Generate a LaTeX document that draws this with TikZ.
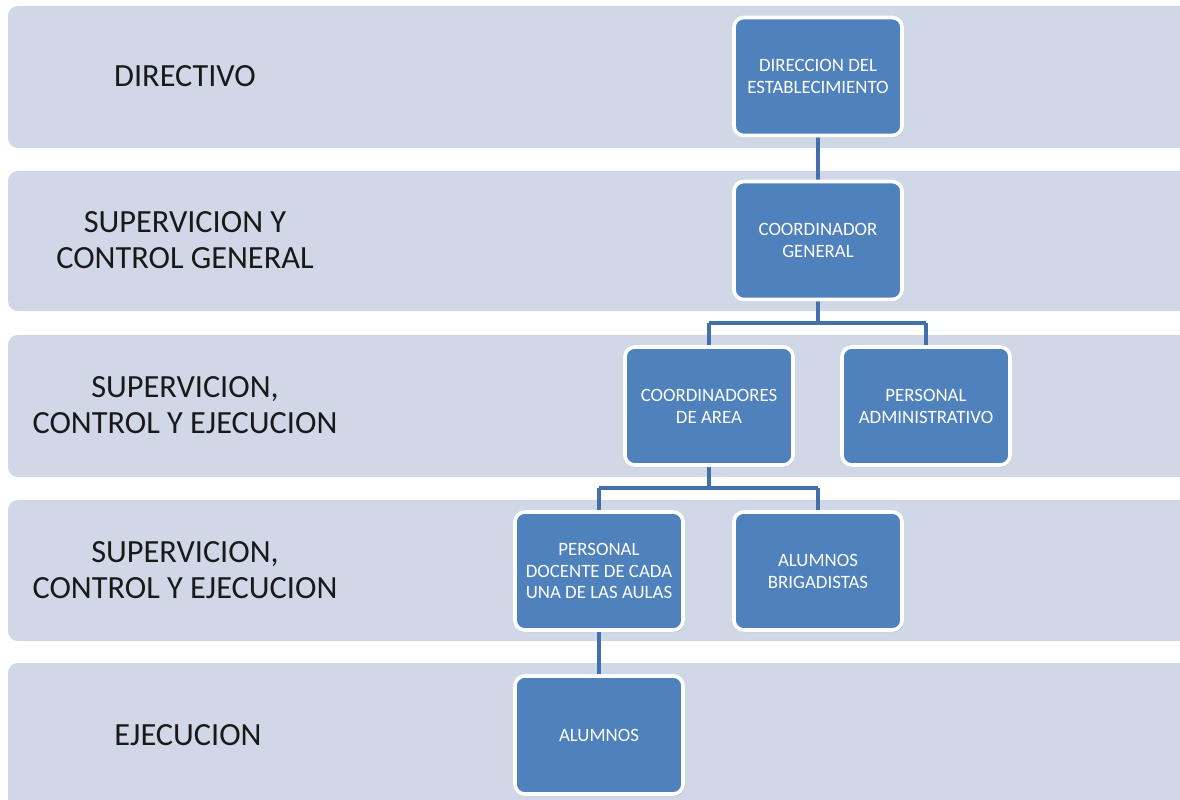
\documentclass[tikz,border=0pt]{standalone}
\usepackage{fontspec}
\setmainfont{Carlito}
\usetikzlibrary{shadows}
\definecolor{band}{RGB}{208,216,232}
\definecolor{boxblue}{RGB}{79,129,189}
\definecolor{linkblue}{RGB}{66,112,170}
\definecolor{labeltext}{RGB}{25,25,25}
\begin{document}
\begin{tikzpicture}[x=0.025cm,y=-0.025cm,
  bandbox/.style={fill=band,draw=none,rounded corners=7pt},
  lvl/.style={text=labeltext,font=\fontsize{23}{25.5}\selectfont,align=center,inner sep=0pt},
  orgbox/.style={fill=boxblue,draw=white,line width=2.6pt,rounded corners=7pt,
    minimum width=168*0.025cm,minimum height=118*0.025cm,text=white,align=center,
    font=\fontsize{13.4}{15.6}\selectfont,inner sep=0pt,
    drop shadow={shadow xshift=1pt,shadow yshift=-1.5pt,fill=black!35,opacity=0.5}},
  link/.style={draw=linkblue,line width=2.8pt}]
\useasboundingbox (0,0) rectangle (1180,800);
% bands
\path[bandbox] (8,6) rectangle (1200,148);
\path[bandbox] (8,171) rectangle (1200,311);
\path[bandbox] (8,335) rectangle (1200,477);
\path[bandbox] (8,500) rectangle (1200,641);
\path[bandbox] (8,663) rectangle (1200,830);
% level labels
\node[lvl] (l1) at (185,76) {DIRECTIVO};
\node[lvl] (l2) at (185,240) {SUPERVICION Y\\CONTROL GENERAL};
\node[lvl] (l3) at (185,405) {SUPERVICION,\\CONTROL Y EJECUCION};
\node[lvl] (l4) at (185,570) {SUPERVICION,\\CONTROL Y EJECUCION};
\node[lvl] (l5) at (188,735) {EJECUCION};
% connectors first (below boxes)
\coordinate (j1) at (818,323);
\coordinate (j1l) at (709,323);
\coordinate (j1r) at (926,323);
\coordinate (j2) at (709,488);
\coordinate (j2l) at (599,488);
\coordinate (j2r) at (818,488);
\draw[link] (818,130) -- (818,190);
\draw[link] (818,295) -- (j1) (j1l) -- (j1r) (j1l) -- (709,355) (j1r) -- (926,355);
\draw[link] (709,460) -- (j2) (j2l) -- (j2r) (j2l) -- (599,520) (j2r) -- (818,520);
\draw[link] (599,625) -- (599,685);
% boxes
\node[orgbox] (dir) at (818,76.5) {DIRECCION DEL\\ESTABLECIMIENTO};
\node[orgbox] (cg) at (818,240.5) {COORDINADOR\\GENERAL};
\node[orgbox] (ca) at (709,406) {COORDINADORES\\DE AREA};
\node[orgbox] (pa) at (926,406) {PERSONAL\\ADMINISTRATIVO};
\node[orgbox] (pd) at (599,571) {PERSONAL\\DOCENTE DE CADA\\UNA DE LAS AULAS};
\node[orgbox] (ab) at (818,571) {ALUMNOS\\BRIGADISTAS};
\node[orgbox] (al) at (599,735) {ALUMNOS};
\end{tikzpicture}
\end{document}
